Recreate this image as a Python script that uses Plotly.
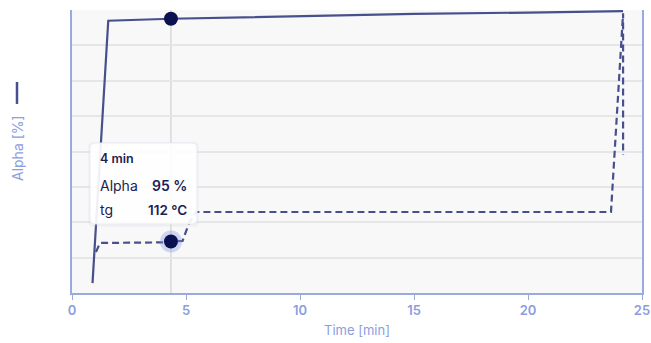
import plotly.graph_objects as go

# Alpha (solid) series
alpha_time = [0.9, 1.59, 4.34, 10, 15, 20, 24.17]
alpha_vals = [3.5, 96.2, 96.9, 97.9, 98.6, 99.1, 99.6]

# tg (dashed) series
tg_time = [1.05, 1.23, 4.08, 4.34, 4.85, 5.15, 5.45, 10, 15, 20, 23.64, 24.17, 24.17]
tg_vals = [89, 108.7, 110, 112, 113, 154, 176, 176, 176, 176, 176, 608, 300]

hover_time = 4.34
hover_alpha = 96.9
hover_tg = 112

x_ticks = [0, 5, 10, 15, 20, 25]

LINE = "#474f8d"
DOT = "#0b1050"
AX = "#9aa9e0"
TXT = "#8c9de0"
DARK = "#1c2152"

fig = go.Figure()
fig.add_trace(go.Scatter(x=alpha_time, y=alpha_vals, mode="lines",
                         line=dict(color=LINE, width=2.2), hoverinfo="skip"))
fig.add_trace(go.Scatter(x=tg_time, y=tg_vals, mode="lines", yaxis="y2",
                         line=dict(color=LINE, width=2.2, dash="7px,4px"), hoverinfo="skip"))
# hover markers
fig.add_trace(go.Scatter(x=[hover_time], y=[hover_tg], yaxis="y2", mode="markers",
                         marker=dict(size=22, color="rgba(130,150,230,0.35)"), hoverinfo="skip"))
fig.add_trace(go.Scatter(x=[hover_time], y=[hover_tg], yaxis="y2", mode="markers",
                         marker=dict(size=14, color=DOT), hoverinfo="skip"))
fig.add_trace(go.Scatter(x=[hover_time], y=[hover_alpha], mode="markers",
                         marker=dict(size=14, color=DOT), hoverinfo="skip"))

# vertical hover line
fig.add_shape(type="line", xref="x", yref="paper", x0=hover_time, x1=hover_time, y0=0, y1=1,
              line=dict(color="#c9c9c9", width=1), layer="below")

# tooltip box (shadow + body)
def rounded(x0, x1, y0, y1, rx=0.009, ry=0.018):
    return (f"M {x0+rx},{y0} L {x1-rx},{y0} Q {x1},{y0} {x1},{y0+ry} L {x1},{y1-ry} "
            f"Q {x1},{y1} {x1-rx},{y1} L {x0+rx},{y1} Q {x0},{y1} {x0},{y1-ry} "
            f"L {x0},{y0+ry} Q {x0},{y0} {x0+rx},{y0} Z")

x0, x1, y0, y1 = 0.0316, 0.2193, 0.2438, 0.530
fig.add_shape(type="path", xref="paper", yref="paper", path=rounded(x0 - 0.003, x1 + 0.003, y0 - 0.01, y1 + 0.004),
              fillcolor="rgba(200,205,220,0.18)", line=dict(width=0))
fig.add_shape(type="path", xref="paper", yref="paper", path=rounded(x0, x1, y0, y1),
              fillcolor="rgba(255,255,255,0.9)", line=dict(color="rgba(232,234,242,0.9)", width=1))

font = "Inter, Noto Sans, sans-serif"
lx, rxp = 0.0456, 0.2053
fig.add_annotation(xref="paper", yref="paper", x=lx, y=0.4735, xanchor="left", yanchor="middle",
                   text="4 min", showarrow=False, font=dict(family=font, size=12.5, color=DARK, weight=600))
fig.add_annotation(xref="paper", yref="paper", x=lx, y=0.3816, xanchor="left", yanchor="middle",
                   text="Alpha", showarrow=False, font=dict(family=font, size=14, color=DARK))
fig.add_annotation(xref="paper", yref="paper", x=rxp, y=0.3816, xanchor="right", yanchor="middle",
                   text="95 %", showarrow=False, font=dict(family=font, size=14, color=DARK, weight=600))
fig.add_annotation(xref="paper", yref="paper", x=lx, y=0.2933, xanchor="left", yanchor="middle",
                   text="tg", showarrow=False, font=dict(family=font, size=14, color=DARK))
fig.add_annotation(xref="paper", yref="paper", x=rxp, y=0.2933, xanchor="right", yanchor="middle",
                   text="112 °C", showarrow=False, font=dict(family=font, size=13.5, color=DARK, weight=600))

# y axis title with legend line
fig.add_annotation(xref="paper", yref="paper", x=-0.0956, y=0.5106, xanchor="center", yanchor="middle",
                   text="Alpha [%]", textangle=-90, showarrow=False,
                   font=dict(family=font, size=14, color=TXT))
fig.add_shape(type="line", xref="paper", yref="paper", x0=-0.0965, x1=-0.0965, y0=0.668, y1=0.7456,
              line=dict(color=LINE, width=2.5))

fig.update_layout(
    width=651, height=343,
    margin=dict(l=72, r=9, t=10, b=50, autoexpand=False),
    paper_bgcolor="white", plot_bgcolor="#f8f8f8",
    showlegend=False,
    font=dict(family=font),
    xaxis=dict(range=[0, 25], tickvals=x_ticks, showgrid=False, zeroline=False, automargin=False,
               showline=True, linecolor=AX, linewidth=1.5, ticks="outside", ticklen=5,
               tickcolor=AX, tickfont=dict(family=font, size=13, color=TXT, weight=600),
               title=dict(text="Time [min]", font=dict(family=font, size=13, color=TXT), standoff=9)),
    yaxis=dict(range=[0, 100], dtick=12.5, showticklabels=False, showgrid=True, automargin=False,
               gridcolor="#e6e6e6", gridwidth=1.5, zeroline=False, showline=True, linecolor=AX,
               linewidth=1.5, mirror=True, ticks=""),
    yaxis2=dict(range=[0, 615], overlaying="y", visible=False),
)

fig.write_html("out.html")
